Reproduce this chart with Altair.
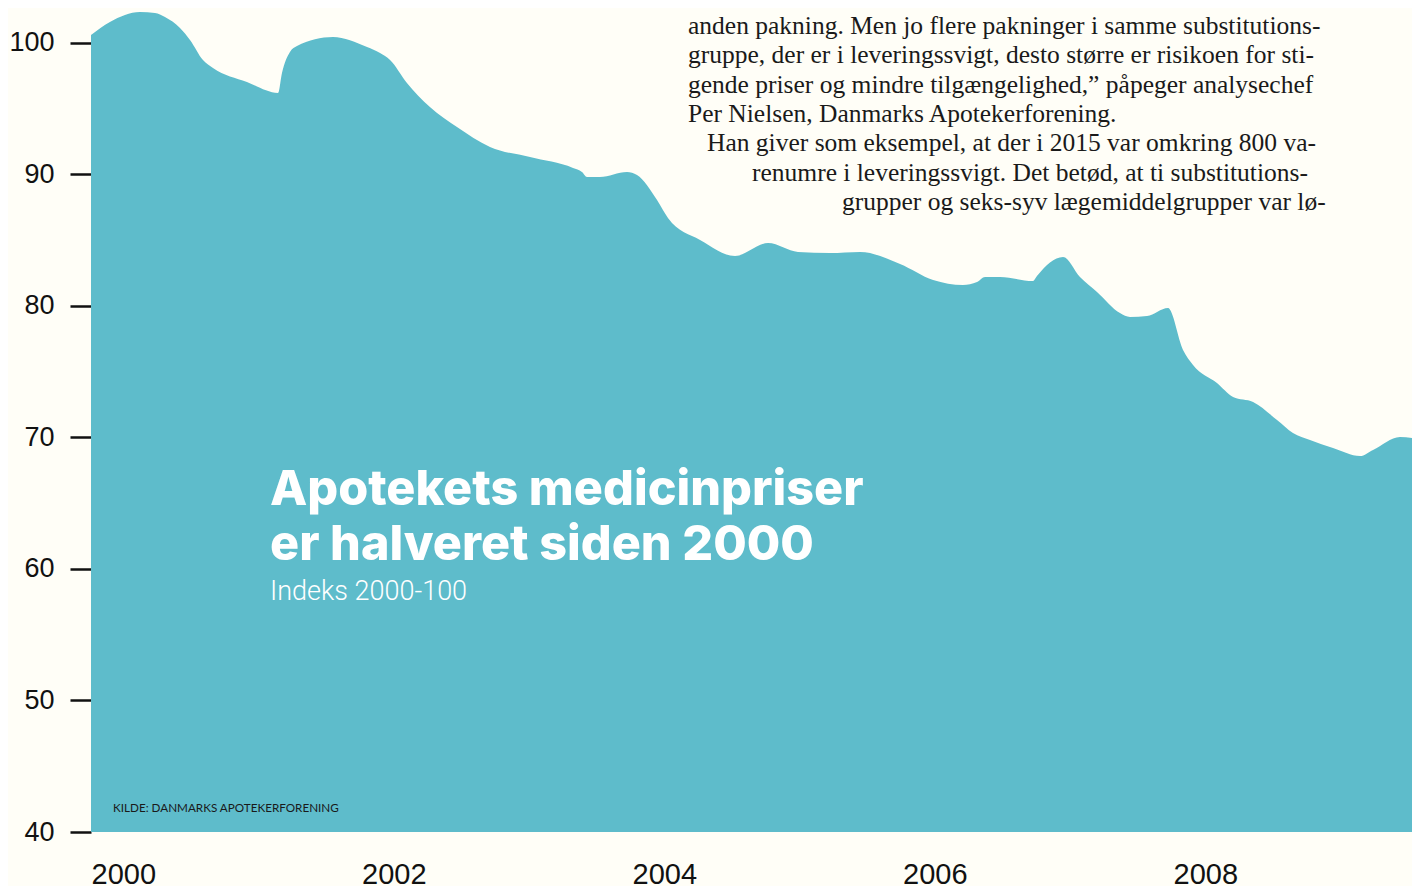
import altair as alt
import pandas as pd

# Price index (2000 = 100)
years = [2000.000, 2000.140, 2000.251, 2000.362, 2000.473, 2000.547, 2000.658, 2000.732,
         2000.828, 2000.902, 2001.153, 2001.383, 2001.412, 2001.471, 2001.523, 2001.789,
         2002.041, 2002.137, 2002.211, 2002.336, 2002.506, 2002.706, 2002.950, 2003.246,
         2003.564, 2003.630, 2003.667, 2003.763, 2003.963, 2004.037, 2004.185, 2004.266,
         2004.503, 2004.762, 2005.006, 2005.227, 2005.464, 2005.686, 2005.982, 2006.226,
         2006.447, 2006.551, 2006.610, 2006.721, 2006.965, 2006.994, 2007.187, 2007.312,
         2007.438, 2007.608, 2007.682, 2007.808, 2007.963, 2008.074, 2008.148, 2008.325,
         2008.444, 2008.592, 2008.769, 2008.887, 2009.013, 2009.183, 2009.383, 2009.479,
         2009.678, 2009.826]
index_values = [100.59, 101.57, 102.11, 102.33, 102.26, 101.95, 101.12, 100.21,
                98.69, 98.08, 97.01, 96.18, 97.70, 99.29, 99.75, 100.43,
                99.67, 99.22, 98.69, 96.94, 95.11, 93.59, 92.07, 91.31,
                90.48, 90.17, 89.79, 89.79, 90.17, 89.94, 88.04, 86.67,
                85.00, 83.79, 84.77, 84.09, 84.01, 84.09, 83.18, 81.96,
                81.58, 81.81, 82.19, 82.19, 81.89, 82.27, 83.71, 82.19,
                81.05, 79.45, 79.15, 79.22, 79.83, 76.64, 75.50, 74.13,
                73.07, 72.69, 71.32, 70.33, 69.80, 69.19, 68.58, 69.04,
                70.03, 69.87]

tick_years = [2000, 2002, 2004, 2006, 2008]
tick_values = [40, 50, 60, 70, 80, 90, 100]

title_lines = ["Apotekets medicinpriser", "er halveret siden 2000"]
subtitle = "Indeks 2000-100"
source = "KILDE: DANMARKS APOTEKERFORENING"
body_lines = [
    "anden pakning. Men jo flere pakninger i samme substitutions-",
    "gruppe, der er i leveringssvigt, desto større er risikoen for sti-",
    "gende priser og mindre tilgængelighed,” påpeger analysechef",
    "Per Nielsen, Danmarks Apotekerforening.",
    "Han giver som eksempel, at der i 2015 var omkring 800 va-",
    "renumre i leveringssvigt. Det betød, at ti substitutions-",
    "grupper og seks-syv lægemiddelgrupper var lø-",
]

BG = "#fffef7"
TEAL = "#5ebccb"
INK = "#111111"

df = pd.DataFrame({"year": years, "value": index_values})

x_enc = alt.X(
    "year:Q",
    scale=alt.Scale(domain=[2000, 2009.767], nice=False, zero=False),
    axis=alt.Axis(values=tick_years, format="d", labelAlign="left", labelBaseline="top",
                  ticks=False, domain=False, grid=False, title=None,
                  labelFont="Liberation Sans", labelFontSize=29,
                  labelPadding=28, labelColor=INK, labelFlush=False, labelOverlap=False),
)
y_enc = alt.Y(
    "value:Q",
    scale=alt.Scale(domain=[40, 102.64], nice=False, zero=False),
    axis=alt.Axis(values=tick_values, format="d", ticks=True, tickSize=21, tickWidth=2.5,
                  tickColor=INK, domain=False, grid=False, title=None,
                  labelFont="Liberation Sans", labelFontSize=27, labelPadding=16,
                  labelColor=INK),
)

area = alt.Chart(df).mark_area(color=TEAL, interpolate="monotone", opacity=1).encode(
    x=x_enc, y=y_enc, y2=alt.datum(40)
)

layers = [area]

def txt(line, px, py, **kw):
    return alt.Chart(pd.DataFrame({"t": [line]})).mark_text(
        align="left", baseline="alphabetic", **kw
    ).encode(x=alt.value(px), y=alt.value(py), text="t:N")

# title block
layers.append(txt(title_lines[0], 179, 497, font="Inter", fontSize=48.5, fontWeight=800, color="#ffffff"))
layers.append(txt(title_lines[1], 179, 552, font="Inter", fontSize=48.5, fontWeight=800, color="#ffffff"))
layers.append(txt(subtitle, 179, 592, font="Roboto", fontSize=27, fontWeight=300, color="#ffffff"))
layers.append(txt(source, 22, 804, font="Lato", fontSize=11.7, color="#1a1a1a"))

body_x = [597, 597, 597, 597, 616, 661, 751]
body_y = [26, 55, 85, 114, 143, 173, 202]
for line, bx, by in zip(body_lines, body_x, body_y):
    layers.append(txt(line, bx, by, font="Liberation Serif", fontSize=25.5, color="#1a1a1a"))

chart = alt.layer(*layers).properties(
    width=1321, height=824,
    autosize=alt.AutoSizeParams(type="none"),
    padding={"left": 83, "top": 0, "right": 0, "bottom": 54},
    background=BG,
).configure_view(strokeWidth=0)

chart.save("out.html", embed_options={"renderer": "svg", "actions": False})
